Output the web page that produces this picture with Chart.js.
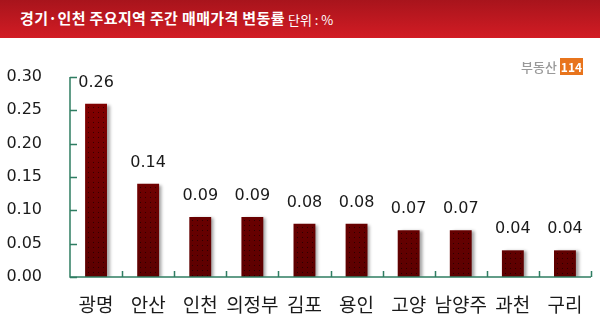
<!DOCTYPE html>
<html>
<head>
<meta charset="utf-8">
<script src="https://cdn.jsdelivr.net/npm/chart.js@4"></script>
<style>
    body { margin: 0; background: #fff; }
    .wrap { position: relative; width: 600px; height: 324px; }
    .title {
        position: absolute; left: 0; top: 0; width: 600px; height: 38px;
        background: linear-gradient(#a8141c, #d21c24);
        color: #fff; font-family: "Noto Sans CJK KR"; 
    }
    .title b { position: absolute; left: 20px; top: 7px; font-size: 15px; font-weight: 700; letter-spacing: 0.35px; }
    .title span { position: absolute; left: 288px; top: 10px; font-size: 13px; }
    .logo { position: absolute; left: 521px; top: 57px; font-family: "Noto Sans CJK KR"; font-weight: 500; font-size: 13px; color: #999; }
    .logo i { font-style: normal; font-weight: 700; background: #e8741c; color: #fff; padding: 0 1px; font-size: 12px; }
    canvas { position: absolute; left: 0; top: 0; }
</style>
</head>
<body>
<div class="wrap">
    <canvas id="chart" width="600" height="324"></canvas>
    <div class="title"><b>경기·인천 주요지역 주간 매매가격 변동률</b><span>단위 : %</span></div>
    <div class="logo">부동산 <i>114</i></div>
</div>
<script>
const regions = ['광명', '안산', '인천', '의정부', '김포', '용인', '고양', '남양주', '과천', '구리'];
const changes = [0.26, 0.14, 0.09, 0.09, 0.08, 0.08, 0.07, 0.07, 0.04, 0.04];
const yTicks = [0, 0.05, 0.10, 0.15, 0.20, 0.25, 0.30];

const axisColor = '#2f7d62';
const ctx = document.getElementById('chart').getContext('2d');

const extras = {
    id: 'extras',
    beforeDatasetsDraw(chart) {
        const c = chart.ctx;
        c.save();
        c.shadowColor = 'rgba(0,0,0,0.35)';
        c.shadowBlur = 3;
        c.shadowOffsetX = 3;
        c.shadowOffsetY = 1;
    },
    afterDatasetsDraw(chart) {
        const c = chart.ctx;
        c.restore();
        const x = chart.scales.x, y = chart.scales.y;
        const area = chart.chartArea;
        // dots on the bars
        c.save();
        c.fillStyle = 'rgba(0,0,0,0.55)';
        chart.getDatasetMeta(0).data.forEach(bar => {
            const l = Math.round(bar.x - bar.width / 2), r = Math.round(bar.x + bar.width / 2);
            for (let py = Math.round(bar.y) + 3; py < bar.base - 1; py += 5) {
                for (let px = l + 3; px < r - 1; px += 5) c.fillRect(px, py, 1, 1);
            }
        });
        // axes
        c.strokeStyle = axisColor;
        c.lineWidth = 1.5;
        c.beginPath();
        c.moveTo(area.left, area.top);
        c.lineTo(area.left, area.bottom);
        c.lineTo(area.right, area.bottom);
        c.stroke();
        c.beginPath();
        yTicks.forEach(v => {
            const py = Math.round(y.getPixelForValue(v)) + 0.5;
            c.moveTo(area.left, py);
            c.lineTo(area.left + 7, py);
        });
        for (let i = 0; i < regions.length; i++) {
            const px = Math.round(x.getPixelForValue(i) + (x.getPixelForValue(1) - x.getPixelForValue(0)) / 2) + 0.5;
            c.moveTo(px, area.bottom);
            c.lineTo(px, area.bottom - 6);
        }
        c.stroke();
        // value labels
        c.fillStyle = '#1a1a1a';
        c.font = '16px "DejaVu Sans"';
        c.textAlign = 'center';
        c.textBaseline = 'middle';
        chart.getDatasetMeta(0).data.forEach((bar, i) => {
            c.fillText(changes[i].toFixed(2), bar.x, bar.y - 21);
        });
        c.restore();
    }
};

new Chart(ctx, {
    type: 'bar',
    data: {
        labels: regions,
        datasets: [{
            data: changes,
            backgroundColor: context => {
                const area = context.chart.chartArea;
                if (!area) return '#700000';
                const g = context.chart.ctx.createLinearGradient(0, area.top, 0, area.bottom);
                g.addColorStop(0, '#860000');
                g.addColorStop(1, '#5c0000');
                return g;
            },
            borderWidth: 0,
            barPercentage: 0.84,
            categoryPercentage: 0.5
        }]
    },
    options: {
        responsive: false,
        animation: false,
        events: [],
        layout: { padding: { top: 77, right: 9, left: 0, bottom: 0 } },
        plugins: { legend: { display: false }, tooltip: { enabled: false } },
        scales: {
            x: {
                grid: { display: false, drawTicks: false },
                border: { display: false },
                ticks: { color: '#1a1a1a', font: { family: 'Noto Sans CJK KR', size: 19 }, padding: 16, maxRotation: 0, autoSkip: false },
                afterFit: s => { s.height = 47; }
            },
            y: {
                min: 0, max: 0.3,
                afterBuildTicks: s => { s.ticks = yTicks.map(v => ({ value: v })); },
                grid: { display: false, drawTicks: false },
                border: { display: false },
                ticks: { color: '#1a1a1a', font: { family: 'DejaVu Sans', size: 16 }, padding: 28, callback: v => v.toFixed(2) },
                afterFit: s => { s.width = 70; }
            }
        }
    },
    plugins: [extras]
});
</script>
</body>
</html>
